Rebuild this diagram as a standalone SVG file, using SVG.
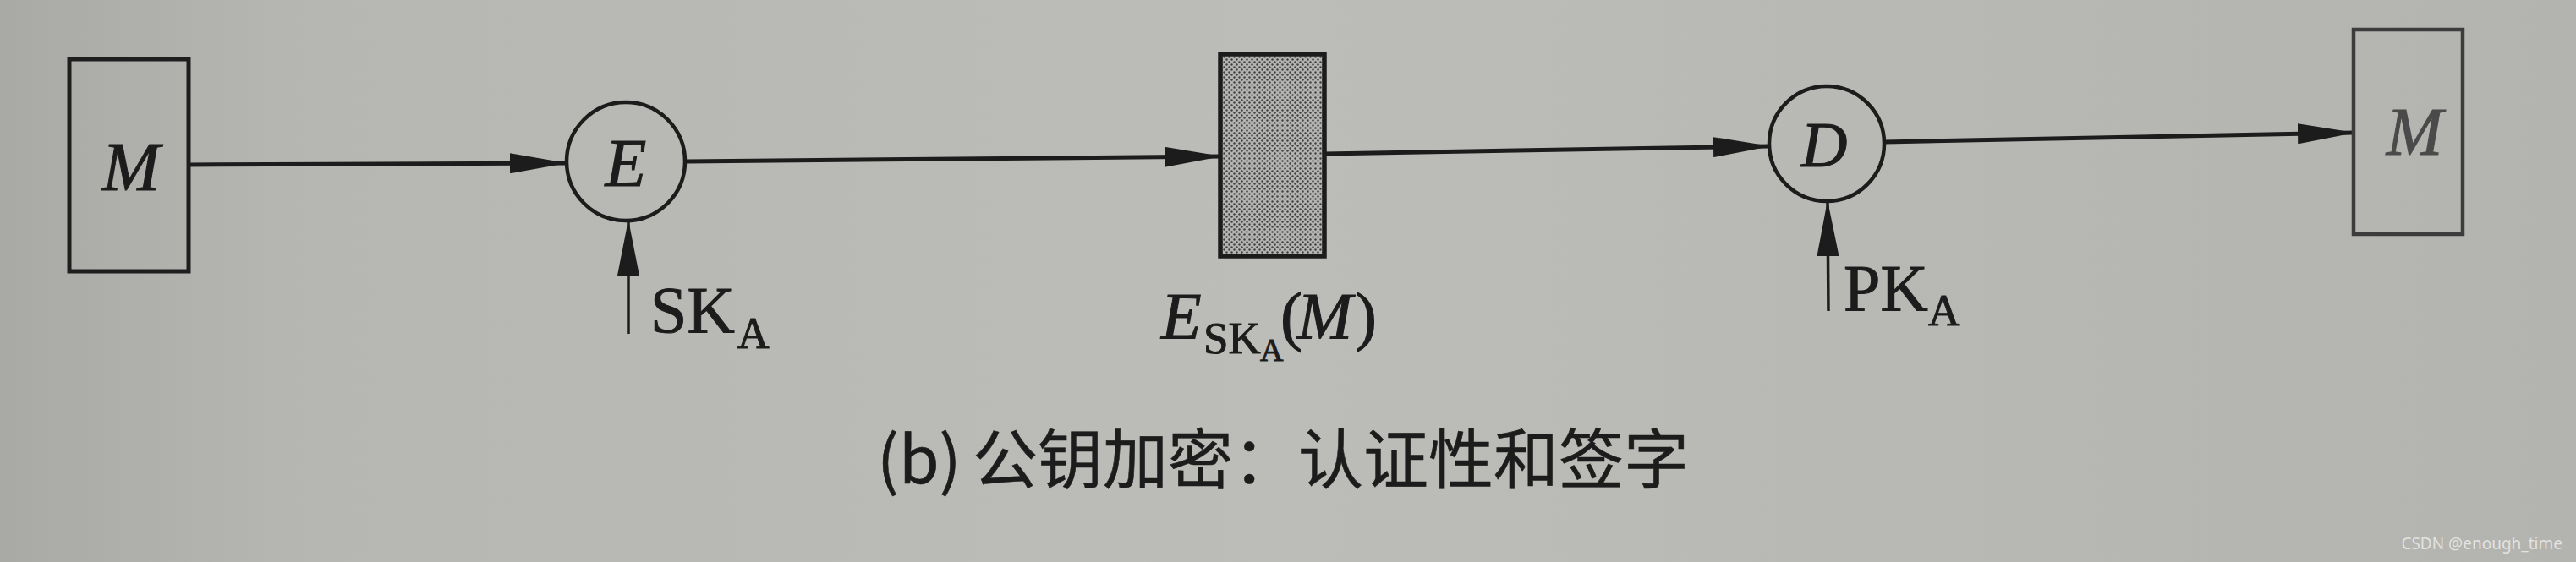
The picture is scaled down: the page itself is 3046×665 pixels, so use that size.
<svg xmlns="http://www.w3.org/2000/svg" width="3046" height="665" viewBox="0 0 3046 665">
<style>
.ln{stroke:#1c1c1c;stroke-width:5;fill:none}
.box{fill:none;stroke:#1e1e1e;stroke-width:5}
.circ{fill:none;stroke:#1c1c1c;stroke-width:4.5}
.it{font-family:"Liberation Serif",serif;font-style:italic;fill:#1c1c1c;stroke:#1c1c1c;stroke-width:1}
.rm{font-family:"Liberation Serif",serif;fill:#1c1c1c;stroke:#1c1c1c;stroke-width:1}
.cap{font-family:"Noto Sans CJK SC","Noto Sans",sans-serif;fill:#1c1c1c;font-size:77px;stroke:#1c1c1c;stroke-width:0.6}
.wm{font-family:"Noto Sans","DejaVu Sans",sans-serif;font-size:19px;fill:#e2e2e0}
</style>
<defs>
<linearGradient id="bg" x1="0" y1="0" x2="1" y2="0">
<stop offset="0" stop-color="#a9a9a6"/>
<stop offset="0.12" stop-color="#b6b6b2"/>
<stop offset="0.5" stop-color="#bcbcb8"/>
<stop offset="1" stop-color="#b3b3af"/>
</linearGradient>
<pattern id="dots" width="6" height="6" patternUnits="userSpaceOnUse">
<rect width="6" height="6" fill="#b4b4b2"/>
<circle cx="1.5" cy="1.5" r="1.2" fill="#404040"/>
<circle cx="4.5" cy="4.5" r="1.2" fill="#404040"/>
</pattern>
<marker id="ah" viewBox="0 0 68 24" refX="66" refY="12" markerWidth="68" markerHeight="24" markerUnits="userSpaceOnUse" orient="auto">
<path d="M0,0 L68,12 L0,24 z" fill="#1c1c1c"/>
</marker>
<marker id="ahk" viewBox="0 0 66 26" refX="64" refY="13" markerWidth="66" markerHeight="26" markerUnits="userSpaceOnUse" orient="auto">
<path d="M0,0 L66,13 L0,26 z" fill="#1c1c1c"/>
</marker>
</defs>
<rect width="3046" height="665" fill="url(#bg)"/>

<g id="connectors">
<line class="ln" x1="223" y1="195" x2="669" y2="193" marker-end="url(#ah)"/>
<line class="ln" x1="812" y1="191" x2="1443" y2="185" marker-end="url(#ah)"/>
<line class="ln" x1="1566" y1="182" x2="2092" y2="173" marker-end="url(#ah)"/>
<line class="ln" x1="2228" y1="168" x2="2783" y2="157" marker-end="url(#ah)"/>
<line class="ln" style="stroke-width:3.5" x1="743" y1="395" x2="743" y2="262" marker-end="url(#ahk)"/>
<line class="ln" style="stroke-width:3.5" x1="2162" y1="368" x2="2161" y2="239" marker-end="url(#ahk)"/>
</g>

<g id="node-m-source">
<rect class="box" x="82" y="70" width="141" height="251"/>
<text class="it" x="155" y="225" font-size="82" text-anchor="middle">M</text>
</g>

<g id="node-e">
<circle class="circ" cx="740" cy="191" r="70"/>
<text class="it" x="740" y="220" font-size="80" text-anchor="middle">E</text>
</g>

<g id="label-ska">
<text class="rm" x="769" y="393" font-size="78">SK<tspan x="872" y="412" font-size="52">A</tspan></text>
</g>

<g id="node-cipher">
<rect x="1443" y="64" width="123" height="239" fill="url(#dots)" stroke="#1c1c1c" stroke-width="5.5"/>
<text class="it" x="1373" y="400" font-size="78">E<tspan class="rm" style="font-style:normal" x="1423" y="418" font-size="53">SK</tspan><tspan class="rm" style="font-style:normal" x="1490" y="427" font-size="38">A</tspan><tspan class="rm" style="font-style:normal" x="1514" y="400" font-size="78">(</tspan><tspan x="1534" y="400" font-size="78">M</tspan><tspan class="rm" style="font-style:normal" x="1602" y="400" font-size="78">)</tspan></text>
</g>

<g id="node-d">
<circle class="circ" cx="2160" cy="170" r="68"/>
<text class="it" x="2157" y="197" font-size="76" text-anchor="middle">D</text>
</g>

<g id="label-pka">
<text class="rm" x="2180" y="367" font-size="78">PK<tspan x="2280" y="385" font-size="52">A</tspan></text>
</g>

<g id="node-m-dest">
<rect x="2783" y="35" width="129" height="242" fill="none" stroke="#3c3c3c" stroke-width="4.5"/>
<text class="it" x="2855" y="183" font-size="80" text-anchor="middle" style="fill:#4a4a4a;stroke:#4a4a4a">M</text>
</g>

<g id="caption">
<text class="cap" x="1037" y="572">(b)<tspan x="1150">公钥加密：认证性和签字</tspan></text>
</g>

<text class="wm" x="3030" y="650" text-anchor="end">CSDN @enough_time</text>
</svg>
